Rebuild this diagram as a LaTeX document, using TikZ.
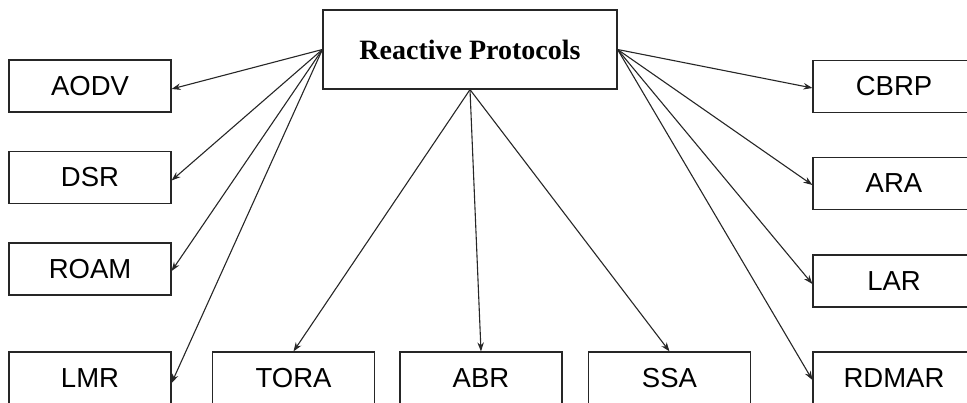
\documentclass[tikz,border=0pt]{standalone}
\usepackage{fontspec}
\setmainfont{Liberation Sans}
\newfontfamily\titlefont{Liberation Serif}
\usetikzlibrary{arrows.meta}
\begin{document}
\begin{tikzpicture}[x=1pt,y=-1pt,
  protobox/.style={draw=black!85,line width=1.2pt,minimum width=162pt,minimum height=52pt,
    inner sep=0pt,font=\fontsize{27.5}{31}\selectfont},
  topbox/.style={draw=black!85,line width=1.2pt,minimum width=294pt,minimum height=79pt,
    inner sep=0pt,font=\titlefont\bfseries\fontsize{28}{32}\selectfont},
  link/.style={draw=black!85,line width=1.1pt,-{Stealth[length=9pt,width=6.5pt]}}]
\useasboundingbox (0,0) rectangle (967,403);
\begin{scope}
\clip (0,0) rectangle (967,403);
\node[topbox] (top) at (470,49.5) {Reactive Protocols};
% left column
\node[protobox] (aodv) at (90,86) {AODV};
\node[protobox] (dsr) at (90,177.5) {DSR};
\node[protobox] (roam) at (90,269) {ROAM};
\node[protobox] (lmr) at (90,378) {LMR};
% bottom row
\node[protobox] (tora) at (293.5,378) {TORA};
\node[protobox] (abr) at (481,378) {ABR};
\node[protobox] (ssa) at (669.5,378) {SSA};
% right column
\node[protobox] (cbrp) at (894,86.5) {CBRP};
\node[protobox] (ara) at (894,183.5) {ARA};
\node[protobox] (lar) at (894,281) {LAR};
\node[protobox] (rdmar) at (894,378) {RDMAR};
\end{scope}
% connectors
\draw[link] (top.west) -- ([yshift=-3pt]aodv.east);
\draw[link] (top.west) -- ([yshift=-3pt]dsr.east);
\draw[link] (top.west) -- ([yshift=-2pt]roam.east);
\draw[link] (top.west) -- ([yshift=-5pt]lmr.east);
\draw[link] (top.south) -- (tora.north);
\draw[link] (top.south) -- (abr.north);
\draw[link] (top.south) -- (ssa.north);
\draw[link] (top.east) -- ([yshift=-1.5pt]cbrp.west);
\draw[link] (top.east) -- ([yshift=-1.5pt]ara.west);
\draw[link] (top.east) -- ([yshift=-3pt]lar.west);
\draw[link] (top.east) -- ([yshift=-2pt]rdmar.west);
\end{tikzpicture}
\end{document}
